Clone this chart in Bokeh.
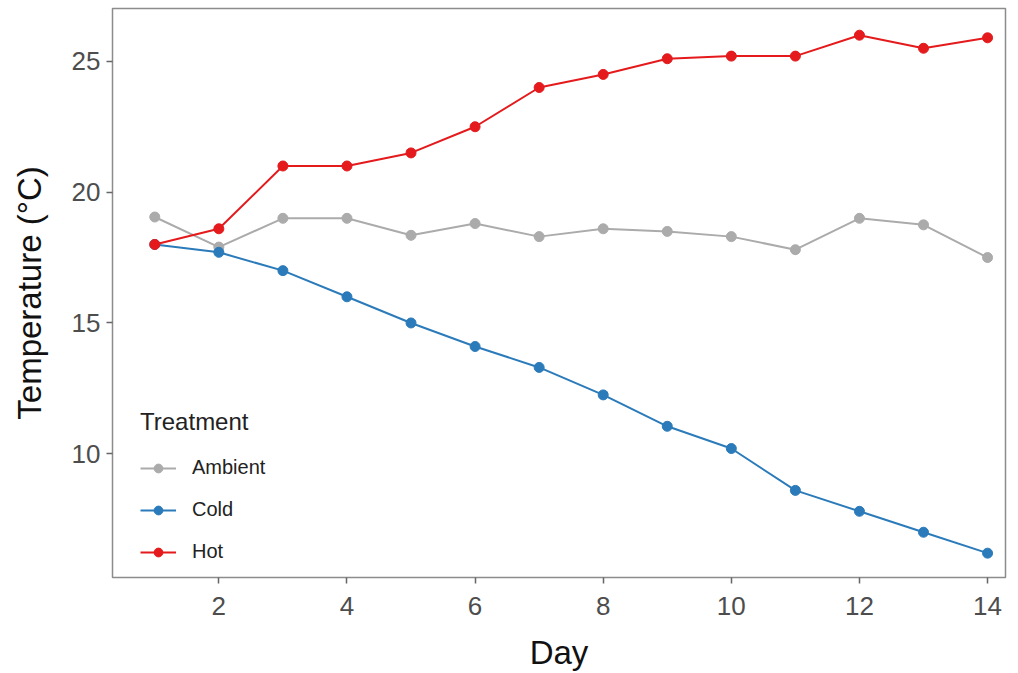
from bokeh.plotting import figure
from bokeh.models import Range1d, FixedTicker, Legend, LegendItem
from bokeh.embed import file_html
from bokeh.resources import INLINE

days = list(range(1, 15))
ambient = [19.05, 17.9, 19.0, 19.0, 18.35, 18.8, 18.3, 18.6, 18.5, 18.3, 17.8, 19.0, 18.75, 17.5]
cold = [18.0, 17.7, 17.0, 16.0, 15.0, 14.1, 13.3, 12.25, 11.05, 10.2, 8.6, 7.8, 7.0, 6.2]
hot = [18.0, 18.6, 21.0, 21.0, 21.5, 22.5, 24.0, 24.5, 25.1, 25.2, 25.2, 26.0, 25.5, 25.9]
series_names = ["Ambient", "Cold", "Hot"]
series_colors = ["#ababab", "#2b7bba", "#e41a1c"]
x_ticks = [2, 4, 6, 8, 10, 12, 14]
y_ticks = [10, 15, 20, 25]

FONT = "Liberation Sans"

p = figure(width=1018, height=673, output_backend="svg", toolbar_location=None,
           x_range=Range1d(0.34, 14.28), y_range=Range1d(5.27, 27.02),
           min_border_left=112, min_border_right=13, min_border_top=8, min_border_bottom=95)

p.xgrid.visible = False
p.ygrid.visible = False
p.outline_line_color = "#8c8c8c"
p.outline_line_width = 1.5

for ax in (p.xaxis[0], p.yaxis[0]):
    ax.axis_line_color = None
    ax.major_tick_line_color = "#666666"
    ax.major_tick_line_width = 1.5
    ax.major_tick_out = 6
    ax.major_tick_in = 0
    ax.minor_tick_line_color = None
    ax.major_label_text_font = FONT
    ax.major_label_text_font_size = "26px"
    ax.major_label_text_color = "#4d4d4d"
    ax.axis_label_text_font = FONT
    ax.axis_label_text_font_size = "33px"
    ax.axis_label_text_font_style = "normal"
    ax.axis_label_text_color = "#111111"

p.xaxis.ticker = FixedTicker(ticks=x_ticks)
p.yaxis.ticker = FixedTicker(ticks=y_ticks)
p.xaxis.axis_label = "Day"
p.yaxis.axis_label = "Temperature (°C)"
p.xaxis.major_label_standoff = 13
p.yaxis.major_label_standoff = 6
p.xaxis.axis_label_standoff = 16
p.yaxis.axis_label_standoff = 21

items = []
for name, vals, col in zip(series_names, [ambient, cold, hot], series_colors):
    l = p.line(days, vals, line_color=col, line_width=2)
    s = p.scatter(days, vals, size=10, fill_color=col, line_color=col)
    items.append(LegendItem(label=name, renderers=[l, s]))

legend = Legend(items=items, location=(28, 14), title="Treatment",
                title_text_font=FONT, title_text_font_size="24px", title_text_color="#222222",
                title_text_font_style="normal", title_standoff=20,
                label_text_font=FONT, label_text_font_size="20px", label_text_color="#222222",
                background_fill_alpha=0, border_line_color=None,
                glyph_width=36, glyph_height=22, label_height=22, spacing=19,
                label_standoff=16, padding=0, margin=0)
p.add_layout(legend)

open("out.html", "w").write(file_html(p, INLINE))
